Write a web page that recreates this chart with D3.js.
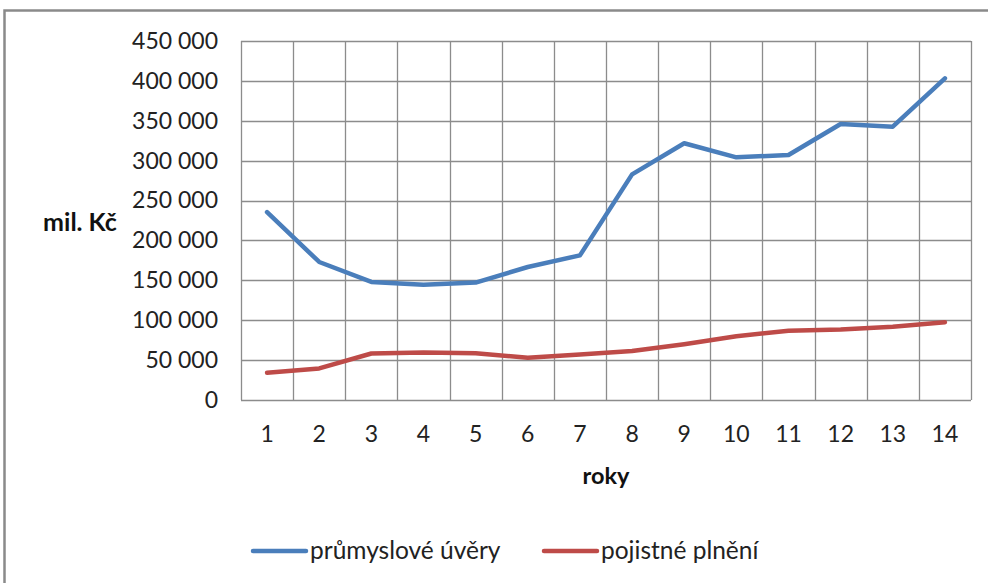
<!DOCTYPE html>
<html>
<head>
<meta charset="utf-8">
<script src="https://cdn.jsdelivr.net/npm/d3@7"></script>
<style>
  html, body { margin: 0; padding: 0; background: #fff; }
  svg { display: block; font-family: Lato, "Open Sans", sans-serif; }
</style>
</head>
<body>
<svg id="chart" width="988" height="583"></svg>
<script>
const years = [1, 2, 3, 4, 5, 6, 7, 8, 9, 10, 11, 12, 13, 14];
const prumysloveUvery = [235500, 173000, 148000, 144600, 147200, 166700, 181300, 282800, 321800, 304200, 307100, 346000, 342600, 403200];
const pojistnePlneni = [34100, 39600, 58300, 59600, 58600, 52900, 57100, 61300, 70000, 80000, 86700, 88300, 91700, 97500];
const yTicks = [0, 50000, 100000, 150000, 200000, 250000, 300000, 350000, 400000, 450000];
const seriesNames = ["průmyslové úvěry", "pojistné plnění"];
const seriesColors = ["#4a7ebb", "#be4b48"];

(function () {
const svg = d3.select("#chart");
const pLeft = 241, pRight = 971, pTop = 41, pBottom = 400;

// outer chart border
svg.append("rect").attr("x", 4.5).attr("y", 10.5).attr("width", 1000).attr("height", 600)
  .attr("fill", "none").attr("stroke", "#8a8a8a").attr("stroke-width", 2.5);

const x = d3.scaleBand().domain(years).range([pLeft, pRight]);
const y = d3.scaleLinear().domain([0, 450000]).range([pBottom, pTop]);
const fmt = d3.formatLocale({ decimal: ",", thousands: " ", grouping: [3], currency: ["", " Kč"] }).format(",d");

const grid = svg.append("g");
grid.selectAll("line.h").data(yTicks).join("line")
  .attr("x1", pLeft).attr("x2", pRight)
  .attr("y1", d => Math.round(y(d)) + 0.5).attr("y2", d => Math.round(y(d)) + 0.5)
  .attr("stroke", "#8c8c8c").attr("stroke-width", 1.3);
const bounds = years.map(d => x(d)).concat([x(years[years.length - 1]) + x.bandwidth()]);
grid.selectAll("line.v").data(bounds).join("line")
  .attr("x1", d => Math.round(d) + 0.5).attr("x2", d => Math.round(d) + 0.5)
  .attr("y1", pTop).attr("y2", pBottom)
  .attr("stroke", "#8c8c8c").attr("stroke-width", 1.3);

const yAxis = svg.append("g").attr("transform", `translate(${pLeft},0)`)
  .call(d3.axisLeft(y).tickValues(yTicks).tickFormat(fmt).tickSize(0).tickPadding(23));
yAxis.select(".domain").remove();
yAxis.selectAll("text").attr("font-size", 23).attr("fill", "#222").attr("font-family", "Lato, sans-serif");

const xAxis = svg.append("g").attr("transform", `translate(0,${pBottom})`)
  .call(d3.axisBottom(x).tickSize(0).tickPadding(26));
xAxis.select(".domain").remove();
xAxis.selectAll("text").attr("font-size", 23).attr("fill", "#222").attr("font-family", "Lato, sans-serif");

svg.append("text").attr("x", 80).attr("y", 231).attr("text-anchor", "middle")
  .attr("font-size", 25).attr("font-weight", "bold").attr("fill", "#111").text("mil. Kč");
svg.append("text").attr("x", (pLeft + pRight) / 2).attr("y", 484).attr("text-anchor", "middle")
  .attr("font-size", 23.5).attr("font-weight", "bold").attr("fill", "#111").text("roky");

const cx = d => x(d) + x.bandwidth() / 2;
const line = d3.line().x((d, i) => cx(years[i])).y(d => y(d));
[prumysloveUvery, pojistnePlneni].forEach((vals, i) => {
  svg.append("path").datum(vals).attr("d", line)
    .attr("fill", "none").attr("stroke", seriesColors[i]).attr("stroke-width", 4.5)
    .attr("stroke-linejoin", "round").attr("stroke-linecap", "round");
});

const legendItems = [
  { x1: 253, x2: 306, tx: 310 },
  { x1: 544, x2: 597, tx: 601 }
];
legendItems.forEach((it, i) => {
  svg.append("line").attr("x1", it.x1).attr("x2", it.x2).attr("y1", 551).attr("y2", 551)
    .attr("stroke", seriesColors[i]).attr("stroke-width", 4.5).attr("stroke-linecap", "round");
  svg.append("text").attr("x", it.tx).attr("y", 559).attr("font-size", 24.5).attr("fill", "#222")
    .text(seriesNames[i]);
});
})();
</script>
</body>
</html>
